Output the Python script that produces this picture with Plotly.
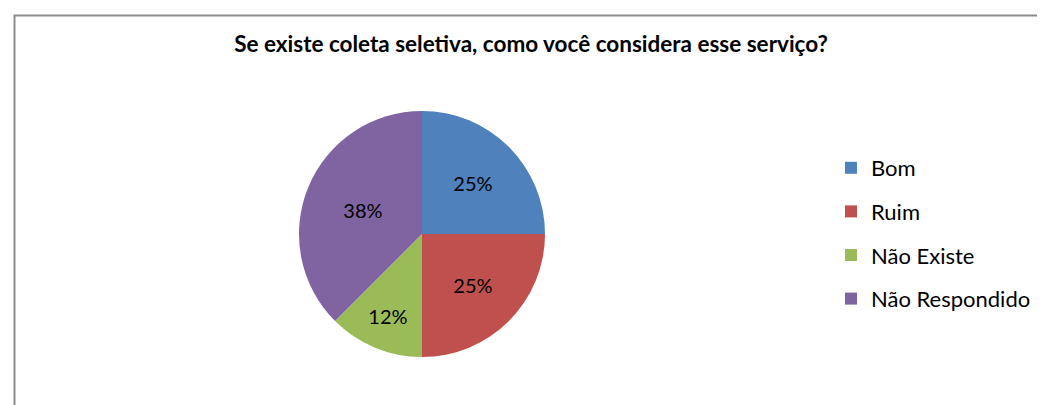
import plotly.graph_objects as go

labels = ["Bom", "Ruim", "Não Existe", "Não Respondido"]
counts = [2, 2, 1, 3]
pct_text = ["25%", "25%", "12%", "38%"]
colors = ["#4F81BD", "#C0504D", "#9BBB59", "#8064A2"]

W, H = 1045, 405
cx, cy, r = 414, 226, 123

fig = go.Figure()
fig.add_trace(go.Pie(
    labels=labels, values=counts, text=pct_text, texttemplate="%{text}",
    textposition="inside", insidetextorientation="horizontal",
    textfont=dict(family="Lato, Carlito, sans-serif", size=20, color="black"),
    marker=dict(colors=colors, line=dict(width=0)),
    sort=False, direction="clockwise", rotation=0, showlegend=False,
    domain=dict(x=[(cx - r) / W, (cx + r) / W], y=[1 - (cy + r) / H, 1 - (cy - r) / H]),
))
# legend entries (spaced like the original)
for lab, col in zip(labels, colors):
    fig.add_trace(go.Scatter(x=[None], y=[None], mode="markers", name=lab,
                             legendgroup=lab,
                             marker=dict(symbol="square", size=11, color=col)))

fig.update_layout(
    width=W, height=H, margin=dict(l=0, r=0, t=0, b=0),
    paper_bgcolor="white", plot_bgcolor="white",
    font=dict(family="Lato, Carlito, sans-serif", color="black"),
    title=dict(text="<b>Se existe coleta seletiva, como você considera esse serviço?</b>",
               x=523 / W, xanchor="center", y=1 - 36 / H, yanchor="middle",
               font=dict(size=22.5)),
    xaxis=dict(visible=False), yaxis=dict(visible=False),
    legend=dict(x=823 / W, y=1 - 139 / H, xanchor="left", yanchor="top",
                font=dict(size=22), tracegroupgap=12, itemsizing="constant",
                bgcolor="rgba(0,0,0,0)"),
    shapes=[dict(type="rect", xref="paper", yref="paper",
                 x0=6.5 / W, x1=1.02, y0=-0.02, y1=1 - 7.5 / H,
                 line=dict(color="#8c8c8c", width=2))],
)

fig.write_html("out.html")
